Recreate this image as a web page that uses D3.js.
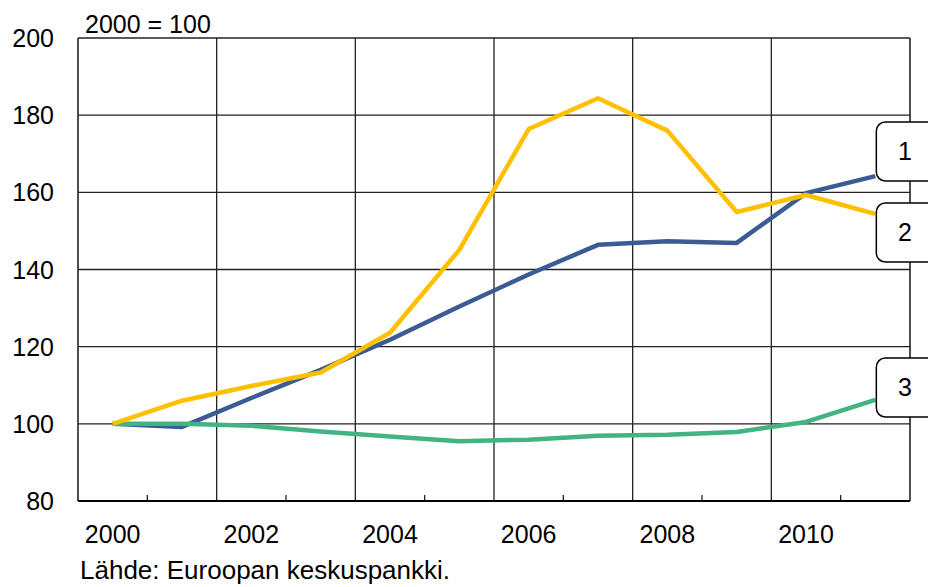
<!DOCTYPE html>
<html>
<head>
<meta charset="utf-8">
<script src="https://cdn.jsdelivr.net/npm/d3@7"></script>
<style>
  body { margin: 0; background: #fff; }
  text { font-family: "Liberation Sans", Arial, sans-serif; fill: #000; }
</style>
</head>
<body>
<div id="chart"></div>
<script>
// data (index, 2000 = 100)
var years = ["2000","2001","2002","2003","2004","2005","2006","2007","2008","2009","2010","2011"];
var yearLabels = ["2000","2002","2004","2006","2008","2010"];
var yTicks = [80, 100, 120, 140, 160, 180, 200];
var series1 = [100, 99.2, 106.7, 114, 121.8, 130.4, 138.7, 146.4, 147.3, 146.9, 159.8, 164.2];
var series2 = [100, 106, 109.8, 113.3, 123.6, 145.1, 176.4, 184.4, 176, 154.9, 159.3, 154.4];
var series3 = [100, 100, 99.5, 98, 96.7, 95.5, 95.9, 96.9, 97.2, 97.9, 100.5, 106.2];
var seriesNames = ["1", "2", "3"];
var seriesColors = ["#3B5C92", "#FFC000", "#44B383"];

var width = 928, height = 587;
var margin = {left: 78, right: 18, top: 38, bottom: 86};

var svg = d3.select("#chart").append("svg")
  .attr("width", width)
  .attr("height", height);

var x = d3.scaleBand()
  .domain(years)
  .range([margin.left, width - margin.right])
  .padding(0);

var y = d3.scaleLinear()
  .domain([80, 200])
  .range([height - margin.bottom, margin.top]);

function cx(yr) { return x(yr) + x.bandwidth() / 2; }

// horizontal grid
svg.append("g")
  .selectAll("line")
  .data(yTicks)
  .enter().append("line")
  .attr("x1", margin.left)
  .attr("x2", width - margin.right)
  .attr("y1", function(d) { return y(d); })
  .attr("y2", function(d) { return y(d); })
  .attr("stroke", "#222")
  .attr("stroke-width", 1.3);

// vertical grid at every other category boundary, minor ticks between
var bounds = d3.range(years.length + 1);
svg.append("g")
  .selectAll("line")
  .data(bounds)
  .enter().append("line")
  .attr("x1", function(i) { return margin.left + i * x.bandwidth(); })
  .attr("x2", function(i) { return margin.left + i * x.bandwidth(); })
  .attr("y1", function(i) { return i % 2 == 0 ? margin.top : y(80) - 6; })
  .attr("y2", y(80))
  .attr("stroke", "#222")
  .attr("stroke-width", function(i) { return (i == 0 || i == years.length) ? 1.6 : 1.3; });

// bottom axis line
svg.append("line")
  .attr("x1", margin.left).attr("x2", width - margin.right)
  .attr("y1", y(80)).attr("y2", y(80))
  .attr("stroke", "#000").attr("stroke-width", 1.8);

// y labels
svg.append("g")
  .selectAll("text")
  .data(yTicks)
  .enter().append("text")
  .attr("x", 54)
  .attr("y", function(d) { return y(d) + 9; })
  .attr("text-anchor", "end")
  .attr("font-size", 25)
  .text(function(d) { return d; });

// x labels
svg.append("g")
  .selectAll("text")
  .data(yearLabels)
  .enter().append("text")
  .attr("x", function(d) { return cx(d); })
  .attr("y", 543)
  .attr("text-anchor", "middle")
  .attr("font-size", 25)
  .text(function(d) { return d; });

svg.append("text")
  .attr("x", 85).attr("y", 33)
  .attr("font-size", 25)
  .text("2000 = 100");

svg.append("text")
  .attr("x", 80).attr("y", 579)
  .attr("font-size", 26)
  .text("Lähde: Euroopan keskuspankki.");

// lines
var line = d3.line()
  .x(function(d, i) { return cx(years[i]); })
  .y(function(d) { return y(d); });

var allSeries = [series1, series3, series2];
var order = [0, 2, 1];
allSeries.forEach(function(s, k) {
  svg.append("path")
    .datum(s)
    .attr("d", line)
    .attr("fill", "none")
    .attr("stroke", seriesColors[order[k]])
    .attr("stroke-width", 4.5)
    .attr("stroke-linejoin", "round");
});

// end labels
var labelY = [151, 232, 387];
seriesNames.forEach(function(n, i) {
  var g = svg.append("g");
  g.append("rect")
    .attr("x", x("2011") + x.bandwidth() / 2 + 1)
    .attr("y", labelY[i] - 29)
    .attr("width", 70)
    .attr("height", 59)
    .attr("rx", 9)
    .attr("fill", "#fff")
    .attr("stroke", "#000")
    .attr("stroke-width", 1.5);
  g.append("text")
    .attr("x", 905)
    .attr("y", labelY[i] + 9)
    .attr("text-anchor", "middle")
    .attr("font-size", 25)
    .text(n);
});
</script>
</body>
</html>
